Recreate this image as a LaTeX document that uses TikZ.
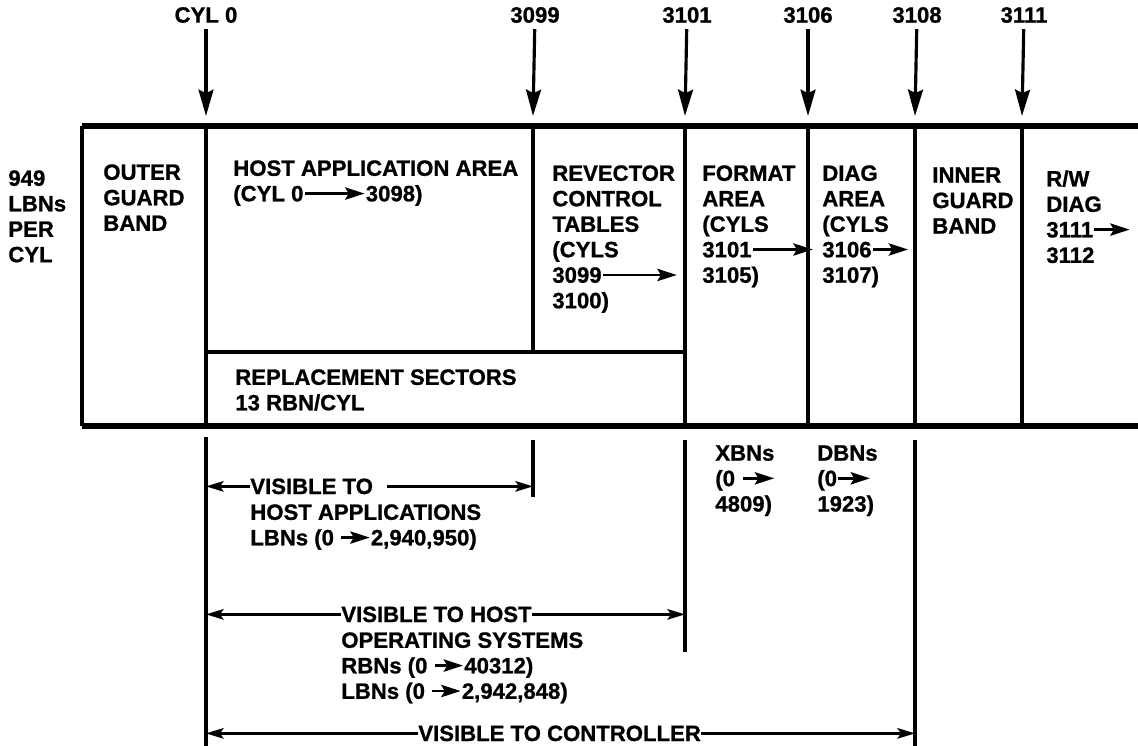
\documentclass[tikz,border=0pt]{standalone}
\usepackage{fontspec}
\setmainfont{Liberation Sans}[BoldFeatures={FakeBold=1}]
\usetikzlibrary{arrows.meta}

% small arrow set inside the text
\newcommand{\inarr}[1]{\tikz[baseline=-4.4pt]\draw[line width=1.5pt,-{Stealth[length=11pt,width=7pt,inset=2pt]}] (0pt,0pt) -- (#1,0pt);}

\begin{document}
\begin{tikzpicture}[x=0.02cm,y=-0.02cm,
	txt/.style={font=\bfseries\fontsize{12.6}{14.5}\selectfont, align=left, anchor=north west, inner sep=0pt},
	oneline/.style={font=\bfseries\fontsize{12.6}{14.5}\selectfont, anchor=base west, inner sep=0pt},
	cyl/.style={font=\bfseries\fontsize{12.6}{14.5}\selectfont},
	pointer/.style={line width=1.8pt, -{Stealth[length=15pt,width=8.5pt,inset=2pt]}},
	span/.style={line width=1.4pt, -{Stealth[length=10pt,width=6pt,inset=2pt]}},
	wall/.style={line width=2pt},
	rim/.style={line width=3pt}]
	\useasboundingbox (0,0) rectangle (1138,746);

	% cylinder marks on top
	\node[cyl] (k0) at (206,15) {CYL 0};
	\node[cyl] (k3099) at (535,15) {3099};
	\node[cyl] (k3101) at (687,15) {3101};
	\node[cyl] (k3106) at (808,15) {3106};
	\node[cyl] (k3108) at (917,15) {3108};
	\node[cyl] (k3111) at (1024,15) {3111};
	\coordinate (a0) at (206,116);
	\coordinate (a3099) at (533,116);
	\coordinate (a3101) at (685,116);
	\coordinate (a3106) at (808,116);
	\coordinate (a3108) at (915,116);
	\coordinate (a3111) at (1022,116);
	\draw [pointer] (k0) -- (a0);
	\draw [pointer] (k3099) -- (a3099);
	\draw [pointer] (k3101) -- (a3101);
	\draw [pointer] (k3106) -- (a3106);
	\draw [pointer] (k3108) -- (a3108);
	\draw [pointer] (k3111) -- (a3111);

	% the band
	\coordinate (tl) at (82,126);
	\coordinate (tr) at (1138,126);
	\coordinate (bl) at (82,426);
	\coordinate (br) at (1138,426);
	\draw [rim] (tl) -- (tr);
	\draw [rim] (bl) -- (br);
	\draw [wall] (tl) -- (bl);
	\draw [wall] (206,126) -- (206,426);
	\draw [wall] (533,126) -- (533,352);
	\draw [wall] (685,126) -- (685,426);
	\draw [wall] (808,126) -- (808,426);
	\draw [wall] (915,126) -- (915,426);
	\draw [wall] (1022,126) -- (1022,426);
	\draw [wall] (206,352) -- (685,352);

	% areas
	\node[txt] (rate) at (8,170) {949\\LBNs\\PER\\CYL};
	\node[txt] (outer) at (103,164) {OUTER\\GUARD\\BAND};
	\node[txt] (host) at (233,160) {HOST APPLICATION AREA\\(CYL 0\inarr{34pt}3098)};
	\node[txt] (revec) at (552,165) {REVECTOR\\CONTROL\\TABLES\\(CYLS\\3099\inarr{42pt}\\3100)};
	\node[txt] (fmt) at (702,165) {FORMAT\\AREA\\(CYLS\\3101\inarr{34pt}\\3105)};
	\node[txt] (diag) at (822,165) {DIAG\\AREA\\(CYLS\\3106\inarr{20pt}\\3107)};
	\node[txt] (inner) at (932,167) {INNER\\GUARD\\BAND};
	\node[txt] (rw) at (1046,170) {R/W\\DIAG\\3111\inarr{20pt}\\3112};
	\node[txt] (spare) at (235,369) {REPLACEMENT SECTORS\\13 RBN/CYL};
	\node[txt] (xbn) at (715,445) {XBNs\\(0 \inarr{18pt}\\4809)};
	\node[txt] (dbn) at (817,445) {DBNs\\(0\inarr{18pt}\\1923)};

	% extension lines below
	\coordinate (l0) at (206,437);
	\coordinate (l0e) at (206,746);
	\coordinate (l3099) at (533,440);
	\coordinate (l3099e) at (533,497);
	\coordinate (l3101) at (685,440);
	\coordinate (l3101e) at (685,652);
	\coordinate (l3108) at (915,440);
	\coordinate (l3108e) at (915,746);
	\draw [wall] (l0) -- (l0e);
	\draw [wall] (l3099) -- (l3099e);
	\draw [wall] (l3101) -- (l3101e);
	\draw [wall] (l3108) -- (l3108e);

	% what sees what
	\node[oneline] (vis1) at (250,494) {VISIBLE TO};
	\node[txt] (vis1b) at (250,504) {HOST APPLICATIONS\\LBNs (0 \inarr{16pt}2,940,950)};
	\draw [span] (vis1.west) -- (vis1.west -| l0);
	\draw [span] ([xshift=8pt]vis1.east) -- (vis1.east -| l3099);
	\node[oneline] (vis2) at (341,622) {VISIBLE TO HOST};
	\node[txt] (vis2b) at (341,632) {OPERATING SYSTEMS\\RBNs (0 \inarr{16pt}40312)\\LBNs (0 \inarr{16pt}2,942,848)};
	\draw [span] (vis2.west) -- (vis2.west -| l0);
	\draw [span] (vis2.east) -- (vis2.east -| l3101);
	\node[oneline] (vis3) at (418,741) {VISIBLE TO CONTROLLER};
	\draw [span] (vis3.west) -- (vis3.west -| l0);
	\draw [span] (vis3.east) -- (vis3.east -| l3108);
\end{tikzpicture}
\end{document}
